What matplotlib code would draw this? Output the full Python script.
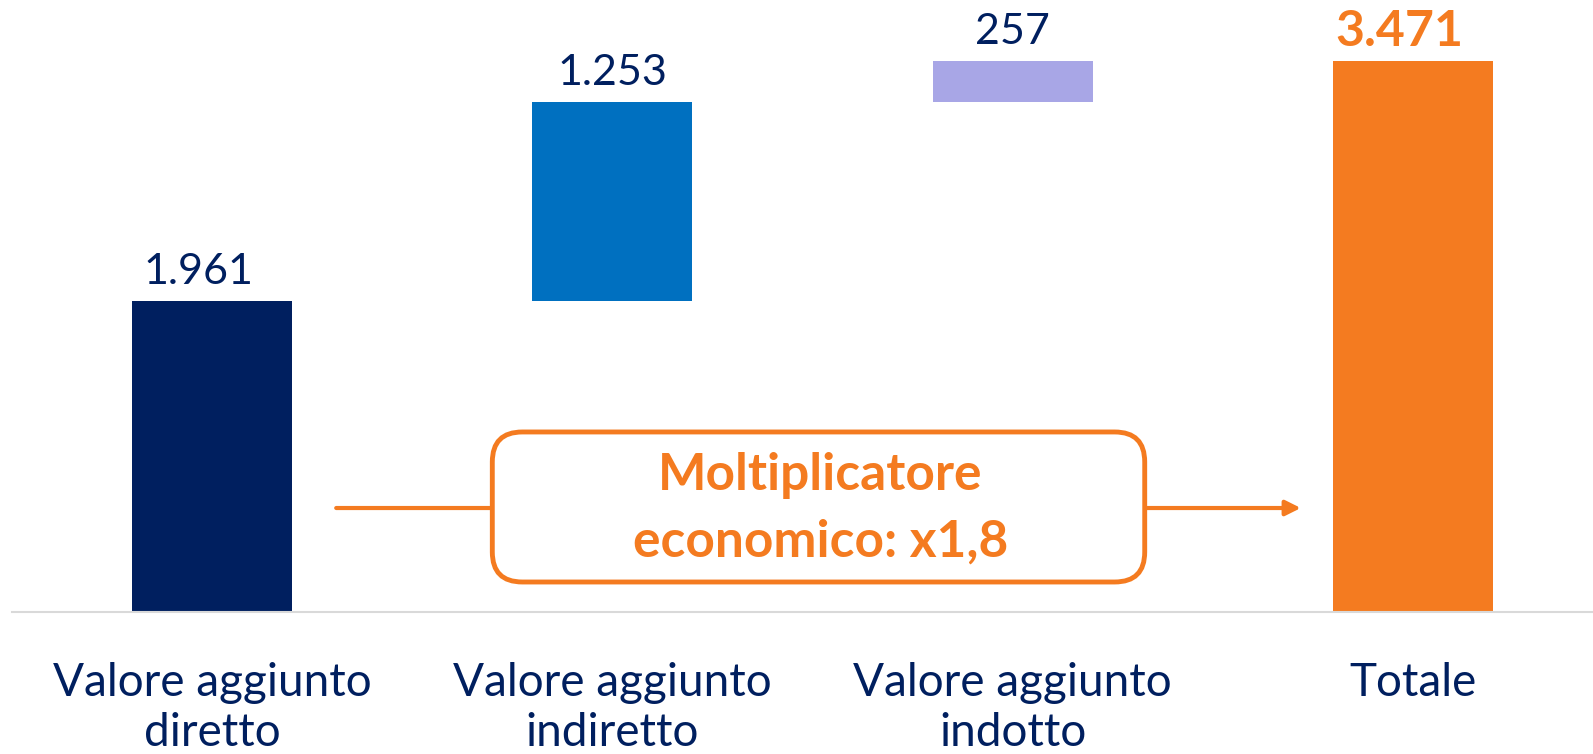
#waterfall: valore aggiunto diretto, indiretto, indotto e totale

import matplotlib.pyplot as plt
from matplotlib.patches import FancyBboxPatch

categories = ['Valore aggiunto\ndiretto', 'Valore aggiunto\nindiretto',
              'Valore aggiunto\nindotto', 'Totale']
values = [1961, 1253, 257, 3471]
value_labels = ['1.961', '1.253', '257', '3.471']
box_text = 'Moltiplicatore\neconomico: x1,8'

NAVY = '#001F5F'
BLUE = '#0070C0'
LAVENDER = '#A8A6E6'
ORANGE = '#F47B20'
colors = [NAVY, BLUE, LAVENDER, ORANGE]

plt.rcParams['font.family'] = ['Lato', 'DejaVu Sans']

def waterfall_bottoms(vals):
    #steps start where the previous one ended, total starts at zero
    bottoms = []
    running = 0
    for v in vals[:-1]:
        bottoms.append(running)
        running += v
    bottoms.append(0)
    return bottoms

def plot():
    fig = plt.figure(figsize=(15.93, 7.54), dpi=100)
    ax = fig.add_axes([12 / 1593, 142 / 754, 1 - 12 / 1593, 612 / 754])
    ax.set_xlim(-0.5, 3.45)
    ax.set_ylim(0, 3855)

    x = list(range(len(values)))
    bottoms = waterfall_bottoms(values)
    ax.bar(x, values, bottom=bottoms, width=0.4, color=colors, zorder=2)

    #label nudges, the original labels sit a bit off centre
    nudge = [-0.035, 0, 0, -0.035]
    for i in x:
        top = bottoms[i] + values[i]
        if i == len(values) - 1:
            ax.text(i + nudge[i], top + 45, value_labels[i], ha='center', va='bottom',
                    fontsize=36, fontweight='bold', color=ORANGE)
        else:
            ax.text(i + nudge[i], top + 60, value_labels[i], ha='center', va='bottom',
                    fontsize=31, color=NAVY)

    for side in ['top', 'right', 'left']:
        ax.spines[side].set_visible(False)
    ax.spines['bottom'].set_color('#D9D9D9')
    ax.spines['bottom'].set_linewidth(1.5)
    ax.set_yticks([])
    ax.set_xticks(x)
    ax.set_xticklabels(categories, fontsize=33, color=NAVY, linespacing=1.25)
    ax.tick_params(axis='x', length=0, pad=36)

    #arrow from the first bar to the total
    ax.annotate('', xy=(2.72, 655), xytext=(0.31, 655),
                arrowprops=dict(arrowstyle='-|>,head_length=0.9,head_width=0.45',
                                color=ORANGE, lw=3, shrinkA=0, shrinkB=0),
                zorder=3)

    #rounded box with the multiplier
    aspect = (3855 / 612) * 400
    box = FancyBboxPatch((0.70, 189), 2.33 - 0.70, 1134 - 189,
                         boxstyle='round,pad=0,rounding_size=0.075',
                         mutation_aspect=aspect,
                         facecolor='white', edgecolor=ORANGE, lw=3.5, zorder=4)
    ax.add_patch(box)
    ax.text((0.70 + 2.33) / 2 + 0.005, (189 + 1134) / 2 - 10, box_text,
            ha='center', va='center', fontsize=37, fontweight='bold',
            color=ORANGE, linespacing=1.5, zorder=5)

    fig.savefig('out.png', dpi=100)

if __name__ == '__main__':
    plot()
